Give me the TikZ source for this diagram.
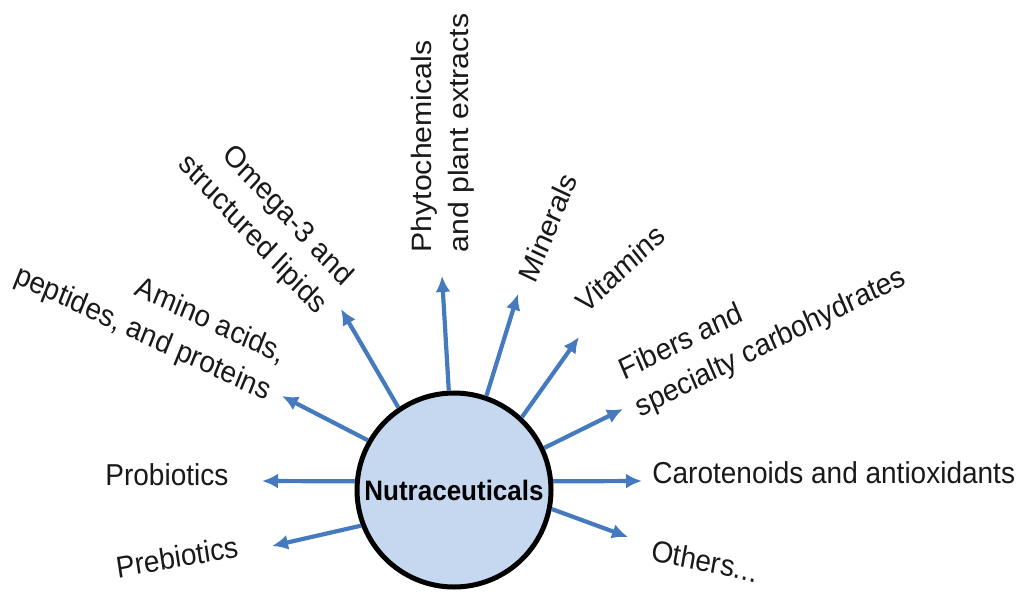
\documentclass[tikz,border=0pt]{standalone}
\usepackage{fontspec}
\setmainfont{Liberation Sans}
\usepackage{graphicx}
\usetikzlibrary{arrows.meta}
\definecolor{RayColor}{RGB}{70,122,190}
\definecolor{HubColor}{RGB}{197,216,240}

\begin{document}
\begin{tikzpicture}[x=0.5pt, y=-0.5pt,
    lbl/.style={inner sep=0pt, text=black!90, font=\fontsize{14}{18.7}\selectfont, yscale=1.08},
    ray/.style={-{Latex[length=8pt,width=7.5pt]}, line width=2.1pt, RayColor}]
  \useasboundingbox (0,0) rectangle (1016,594);
  % hub
  \node[circle, draw, line width=2.5pt, fill=HubColor, minimum size=97pt, inner sep=0pt,
        font=\bfseries\fontsize{13}{15}\selectfont] (nut) at (454,490) {\scalebox{1}[1.08]{Nutraceuticals}};
  % arrow tips
  \coordinate (tProb)  at (262,481);
  \coordinate (tPreb)  at (272,546);
  \coordinate (tAmino) at (282,396);
  \coordinate (tOmega) at (341,309);
  \coordinate (tPhyto) at (442,276);
  \coordinate (tMins)  at (518,294);
  \coordinate (tVits)  at (579,337);
  \coordinate (tFib)   at (623,409);
  \coordinate (tCarot) at (642,481);
  \coordinate (tOth)   at (628,537);
  \draw[ray] (nut.175) -- (tProb);
  \draw[ray] (nut.201) -- (tPreb);
  \draw[ray] (nut.150) -- (tAmino);
  \draw[ray] (nut.124) -- (tOmega);
  \draw[ray] (nut.93)  -- (tPhyto);
  \draw[ray] (nut.71)  -- (tMins);
  \draw[ray] (nut.47)  -- (tVits);
  \draw[ray] (nut.25)  -- (tFib);
  \draw[ray] (nut.5)   -- (tCarot);
  \draw[ray] (nut.349) -- (tOth);
  % labels
  \node[lbl, anchor=base west] (prob) at (105,485) {Probiotics};
  \node[lbl, anchor=base, rotate=9.3] (preb) at (178.5,567.5) {Prebiotics};
  \node[lbl, align=right, rotate=-23.4] (amino) at (150,316) {Amino acids,\\peptides, and proteins};
  \node[lbl, align=right, rotate=-45] (omega) at (265,221) {Omega-3 and\\structured lipids};
  \node[lbl, align=left, rotate=90] (phyto) at (443,133) {Phytochemicals\\and plant extracts};
  \node[lbl, anchor=base, rotate=66.4] (mins) at (556.7,231.7) {Minerals};
  \node[lbl, anchor=base, rotate=41] (vits) at (626.7,276.5) {Vitamins};
  \node[lbl, align=left, rotate=24.8] (fib) at (763,325) {Fibers and\\specialty carbohydrates};
  \node[lbl, anchor=base west] (carot) at (652,483) {Carotenoids and antioxidants};
  \node[lbl, anchor=base, rotate=-11.1] (oth) at (703,571.5) {Others...};
\end{tikzpicture}
\end{document}
